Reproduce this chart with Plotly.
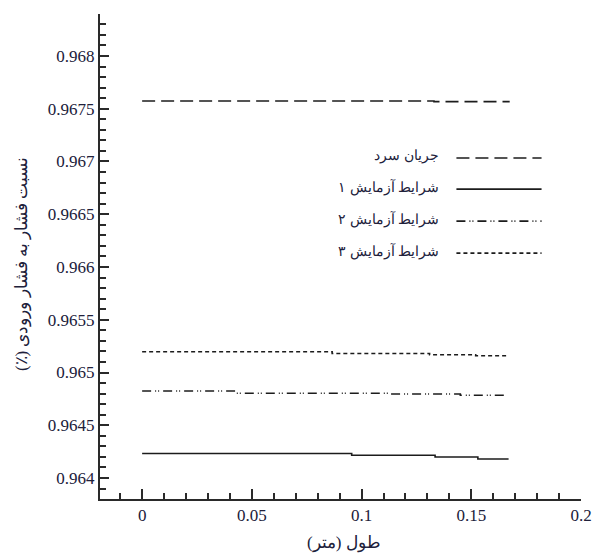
import plotly.graph_objects as go

# Pressure ratio along the length for the four cases (step-wise profiles)
cold_x = [0.0, 0.133, 0.1675]
cold_y = [0.967573, 0.967567, 0.967567]

exp1_x = [0.0, 0.0955, 0.1335, 0.153, 0.167]
exp1_y = [0.964232, 0.964215, 0.964199, 0.964180, 0.964180]

exp2_x = [0.0, 0.042, 0.113, 0.145, 0.1655]
exp2_y = [0.964825, 0.964803, 0.964796, 0.964784, 0.964771]

exp3_x = [0.0, 0.0866, 0.131, 0.152, 0.167]
exp3_y = [0.965197, 0.965180, 0.965168, 0.965159, 0.965159]

series_names = ["جریان سرد", "شرایط آزمایش ۱", "شرایط آزمایش ۲", "شرایط آزمایش ۳"]

# Axis tick layout: major step, minor step and label format
x_tick0, x_dtick, x_minor, x_fmt = 0.0, 0.05, 0.01, ".2~f"
y_tick0, y_dtick, y_minor, y_fmt = 0.964, 0.0005, 0.0001, ".4~f"

x_title = "طول (متر)"
y_title = "نسبت فشار به فشار ورودی (٪)"

RLM = "\u200f"
INK = "#1c1c1c"
TXT = "#20203a"
AX = "#2a2a2a"
SERIF = "Liberation Serif"
dashes = ["13px,6px", "solid", "9px,4px,1px,2px,1px,4px", "4px,3px"]


def rtl(s):
    return RLM + s + RLM


fig = go.Figure()
for xs, ys, name, dash in zip(
    [cold_x, exp1_x, exp2_x, exp3_x],
    [cold_y, exp1_y, exp2_y, exp3_y],
    series_names,
    dashes,
):
    fig.add_trace(go.Scatter(
        x=xs, y=ys, name=name, mode="lines",
        line=dict(color=INK, width=1.6, dash=dash, shape="hv"),
        showlegend=False,
    ))

# Legend drawn on the right with text to the left of each line sample
leg_rows = [0.703, 0.639, 0.573, 0.507]
for name, dash, yy in zip(series_names, dashes, leg_rows):
    fig.add_shape(type="line", xref="paper", yref="paper",
                  x0=0.741, x1=0.918, y0=yy, y1=yy,
                  line=dict(color=INK, width=1.6, dash=dash))
    fig.add_annotation(xref="paper", yref="paper", x=0.708, y=yy + 0.004,
                       text=rtl(name), showarrow=False, xanchor="right", yanchor="middle",
                       font=dict(family=SERIF, size=14, color=TXT))

fig.add_annotation(xref="paper", yref="paper", x=0.508, y=-0.091, text=rtl(x_title),
                   showarrow=False, xanchor="center", yanchor="middle",
                   font=dict(family=SERIF, size=17, color=TXT))
fig.add_annotation(xref="paper", yref="paper", x=-0.162, y=0.4845, text=rtl(y_title),
                   showarrow=False, textangle=-90, xanchor="center", yanchor="middle",
                   font=dict(family=SERIF, size=17, color=TXT))

fig.update_xaxes(
    range=[-0.0192, 0.2], tickmode="linear", tick0=x_tick0, dtick=x_dtick, tickformat=x_fmt,
    showgrid=False, zeroline=False, showline=True, linecolor=AX, linewidth=2,
    ticks="inside", ticklen=10, tickcolor=AX, tickwidth=1.6,
    tickfont=dict(family=SERIF, size=17, color=TXT),
    minor=dict(dtick=x_minor, ticks="inside", ticklen=6, tickcolor=AX, tickwidth=1.6),
)
fig.update_yaxes(
    range=[0.963801, 0.968398], tickmode="linear", tick0=y_tick0, dtick=y_dtick, tickformat=y_fmt,
    showgrid=False, zeroline=False, showline=True, linecolor=AX, linewidth=2,
    ticks="inside", ticklen=9, tickcolor=AX, tickwidth=1.6,
    tickfont=dict(family=SERIF, size=17, color=TXT),
    minor=dict(dtick=y_minor, ticks="inside", ticklen=6, tickcolor=AX, tickwidth=1.6),
)

fig.update_layout(
    width=604, height=556,
    margin=dict(l=100, r=14, t=14, b=57),
    paper_bgcolor="white", plot_bgcolor="white",
)

fig.write_html("out.html")
